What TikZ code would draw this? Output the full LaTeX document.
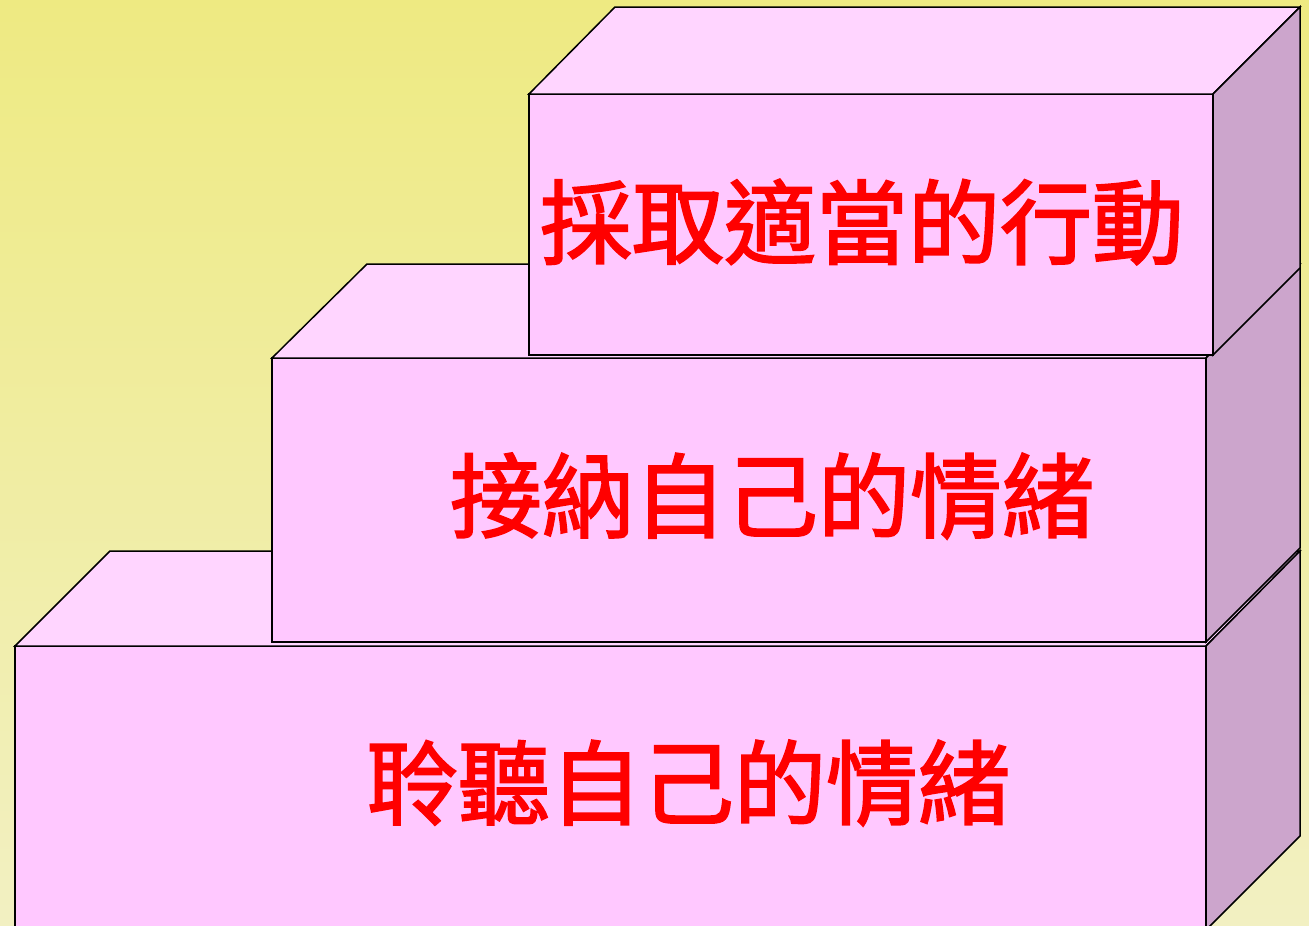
\documentclass[tikz,border=0pt]{standalone}
\usepackage{fontspec}
\newfontfamily\cjk[FakeBold=2]{Noto Sans CJK TC}
\definecolor{bgtop}{HTML}{EEEA82}
\definecolor{bgbot}{HTML}{F2F0C2}
\definecolor{frontc}{HTML}{FFC8FF}
\definecolor{topc}{HTML}{FFD5FF}
\definecolor{sidec}{HTML}{CCA5CC}
\definecolor{txtred}{HTML}{FF0000}
\tikzset{
  facefront/.style={fill=frontc,draw=black,line width=1.5pt,line join=miter},
  facetop/.style={fill=topc,draw=black,line width=1.5pt,line join=miter},
  faceside/.style={fill=sidec,draw=black,line width=1.5pt,line join=miter},
  boxlabel/.style={text=txtred,inner sep=0pt,font=\cjk\fontsize{92}{100}\selectfont}
}
\begin{document}
\begin{tikzpicture}[x=1pt,y=-1pt]
\useasboundingbox (0,0) rectangle (1309,926);
\shade[top color=bgtop,bottom color=bgbot] (0,0) rectangle (1309,926);
% bottom box
\path[facefront] (15,646) -- (1206,646) -- (1206,945) -- (15,945) -- cycle;
\path[facetop] (15,646) -- (110,551) -- (1300,551) -- (1206,646) -- cycle;
\path[faceside] (1206,646) -- (1300,551) -- (1300,836) -- (1206,930) -- cycle;
% middle box
\path[facefront] (272,358) -- (1206,358) -- (1206,642) -- (272,642) -- cycle;
\path[facetop] (272,358) -- (367,264) -- (1300,264) -- (1206,358) -- cycle;
\path[faceside] (1206,358) -- (1300,264) -- (1300,548) -- (1206,642) -- cycle;
% top box
\path[facefront] (529,94) -- (1213,94) -- (1213,355) -- (529,355) -- cycle;
\path[facetop] (529,94) -- (615,7) -- (1300,7) -- (1213,94) -- cycle;
\path[faceside] (1213,94) -- (1300,7) -- (1300,268) -- (1213,355) -- cycle;
% labels
\node[boxlabel] (t3) at (862,222) {採取適當的行動};
\node[boxlabel] (t2) at (772,496) {接納自己的情緒};
\node[boxlabel] (t1) at (688,783) {聆聽自己的情緒};
\end{tikzpicture}
\end{document}
